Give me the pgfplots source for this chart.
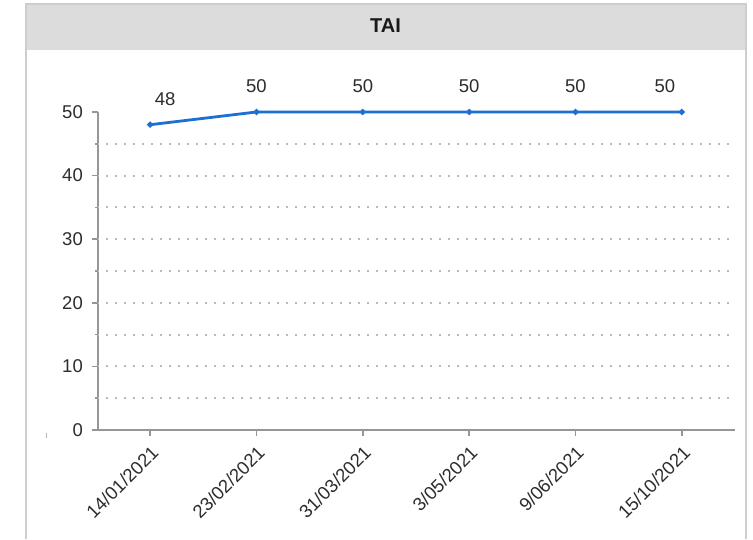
\documentclass[border=0pt]{standalone}
\usepackage{pgfplots}
\pgfplotsset{compat=1.18}
\usepackage{fontspec}
\setmainfont{Liberation Sans}
\definecolor{linecol}{RGB}{28,112,212}
\definecolor{txt}{RGB}{45,45,45}
\definecolor{axcol}{RGB}{150,150,150}
\definecolor{gridcol}{RGB}{185,185,185}
\definecolor{barcol}{RGB}{220,220,220}
\definecolor{framecol}{RGB}{205,205,205}
\newcommand\cf{\fontsize{18.5bp}{22bp}\selectfont}

\begin{document}
\begin{tikzpicture}
    % page size and frame
    \path[fill=white] (0bp,0bp) rectangle (753bp,539bp);
    \fill[barcol] (26bp,489bp) rectangle (746bp,535bp);
    \draw[framecol, line width=1.5bp] (26bp,0bp) -- (26bp,535bp) -- (746bp,535bp) -- (746bp,0bp);
    \node[font=\fontsize{20bp}{24bp}\selectfont\bfseries, text=black!90] at (385.5bp,513.5bp) {TAI};
    \draw[axcol!70, line width=1bp] (46bp,101bp) -- (46bp,106bp);

    \begin{axis}[
            at={(98bp,109bp)},
            anchor=south west,
            scale only axis,
            width=637bp,
            height=318bp,
            xmin=-0.49, xmax=5.5,
            ymin=0, ymax=50,
            clip=false,
            axis lines*=left,
            axis line style={axcol, line width=1.5bp},
            every tick/.style={axcol, line width=1.5bp},
            tick align=outside,
            major tick length=6bp,
            minor tick length=3bp,
            xtick={0,1,2,3,4,5},
            xticklabels={14/01/2021, 23/02/2021, 31/03/2021, 3/05/2021, 9/06/2021, 15/10/2021},
            x tick label style={rotate=45, anchor=north east, font=\cf, text=txt, inner sep=6bp},
            ytick={0,10,20,30,40,50},
            minor y tick num=1,
            y tick label style={font=\cf, text=txt, inner sep=2bp, xshift=-7bp},
            extra y ticks={5,10,15,20,25,30,35,40,45},
            extra y tick labels={},
            extra y tick style={
                    major tick length=0pt,
                    ymajorgrids=true,
                    major grid style={gridcol, line width=2bp,
                            dash pattern=on 2bp off 7bp, dash phase=1bp},
                },
            /pgf/number format/assume math mode=true,
        ]

        \addplot[
            linecol, line width=2.8bp,
            mark=*, mark size=1.4bp,
            mark options={fill=linecol, draw=linecol},
            nodes near coords,
            visualization depends on={\thisrow{dx} \as \dx},
            every node near coord/.append style={
                    font=\cf, text=txt, anchor=base,
                    inner sep=0pt, yshift=19bp, xshift=\dx bp,
                },
        ] table {
                x y  dx
                0 48 15
                1 50 0
                2 50 0
                3 50 0
                4 50 0
                5 50 -17
            };
    \end{axis}
\end{tikzpicture}
\end{document}
